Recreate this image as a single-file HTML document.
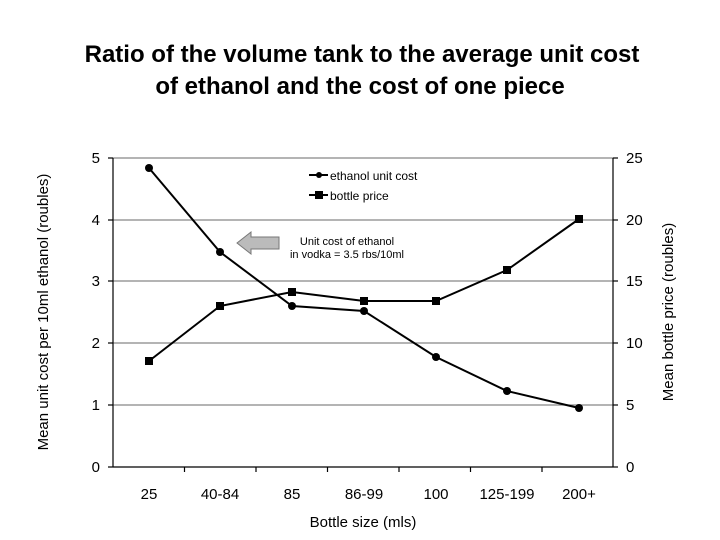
<!DOCTYPE html>
<html><head><style>body{margin:0;background:#fff}svg{display:block}</style></head><body>
<svg width="720" height="540" xmlns="http://www.w3.org/2000/svg" font-family="Liberation Sans, Arial, sans-serif">
<text x="362" y="62" text-anchor="middle" font-size="24" font-weight="bold">Ratio of the volume tank to the average unit cost</text>
<text x="360" y="94" text-anchor="middle" font-size="24" font-weight="bold">of ethanol and the cost of one piece</text>
<g stroke="#888" stroke-width="1.2">
<line x1="113" y1="158" x2="613" y2="158"/><line x1="113" y1="220" x2="613" y2="220"/>
<line x1="113" y1="281" x2="613" y2="281"/><line x1="113" y1="343" x2="613" y2="343"/>
<line x1="113" y1="405" x2="613" y2="405"/>
</g>
<g stroke="#000" stroke-width="1.2">
<line x1="113" y1="158" x2="113" y2="467"/><line x1="613" y1="158" x2="613" y2="467"/>
<line x1="113" y1="467" x2="613" y2="467"/>
<line x1="108" y1="158" x2="113" y2="158"/><line x1="108" y1="220" x2="113" y2="220"/><line x1="108" y1="281" x2="113" y2="281"/><line x1="108" y1="343" x2="113" y2="343"/><line x1="108" y1="405" x2="113" y2="405"/><line x1="108" y1="467" x2="113" y2="467"/>
<line x1="613" y1="158" x2="618" y2="158"/><line x1="613" y1="220" x2="618" y2="220"/><line x1="613" y1="281" x2="618" y2="281"/><line x1="613" y1="343" x2="618" y2="343"/><line x1="613" y1="405" x2="618" y2="405"/><line x1="613" y1="467" x2="618" y2="467"/>
<line x1="184.5" y1="467" x2="184.5" y2="472"/><line x1="256" y1="467" x2="256" y2="472"/><line x1="327.5" y1="467" x2="327.5" y2="472"/><line x1="399" y1="467" x2="399" y2="472"/><line x1="470.5" y1="467" x2="470.5" y2="472"/><line x1="542" y1="467" x2="542" y2="472"/>
</g>
<g font-size="15" text-anchor="end">
<text x="100" y="163">5</text><text x="100" y="225">4</text><text x="100" y="286">3</text><text x="100" y="348">2</text><text x="100" y="410">1</text><text x="100" y="472">0</text>
</g>
<g font-size="15" text-anchor="start">
<text x="626" y="163">25</text><text x="626" y="225">20</text><text x="626" y="286">15</text><text x="626" y="348">10</text><text x="626" y="410">5</text><text x="626" y="472">0</text>
</g>
<g font-size="15" text-anchor="middle">
<text x="149" y="499">25</text><text x="220" y="499">40-84</text><text x="292" y="499">85</text><text x="364" y="499">86-99</text><text x="436" y="499">100</text><text x="507" y="499">125-199</text><text x="579" y="499">200+</text>
<text x="363" y="527">Bottle size (mls)</text>
</g>
<text transform="translate(48,312) rotate(-90)" font-size="15" text-anchor="middle">Mean unit cost per 10ml ethanol (roubles)</text>
<text transform="translate(673,312) rotate(-90)" font-size="15" text-anchor="middle">Mean bottle price (roubles)</text>
<polyline fill="none" stroke="#000" stroke-width="2" points="149,168 220,252 292,306 364,311 436,357 507,391 579,408"/>
<g fill="#000"><circle cx="149" cy="168" r="4"/><circle cx="220" cy="252" r="4"/><circle cx="292" cy="306" r="4"/><circle cx="364" cy="311" r="4"/><circle cx="436" cy="357" r="4"/><circle cx="507" cy="391" r="4"/><circle cx="579" cy="408" r="4"/></g>
<polyline fill="none" stroke="#000" stroke-width="2" points="149,361 220,306 292,292 364,301 436,301 507,270 579,219"/>
<g fill="#000"><rect x="145" y="357" width="8" height="8"/><rect x="216" y="302" width="8" height="8"/><rect x="288" y="288" width="8" height="8"/><rect x="360" y="297" width="8" height="8"/><rect x="432" y="297" width="8" height="8"/><rect x="503" y="266" width="8" height="8"/><rect x="575" y="215" width="8" height="8"/></g>
<line x1="309" y1="175" x2="328" y2="175" stroke="#000" stroke-width="2"/><circle cx="319" cy="175" r="3"/>
<line x1="309" y1="195" x2="328" y2="195" stroke="#000" stroke-width="2"/><rect x="315" y="191" width="8" height="8"/>
<text x="330" y="180" font-size="12">ethanol unit cost</text>
<text x="330" y="200" font-size="12">bottle price</text>
<polygon points="237,243 251,232 251,237 279,237 279,249 251,249 251,254" fill="#bbb" stroke="#777" stroke-width="1"/>
<text x="347" y="245" font-size="11" text-anchor="middle">Unit cost of ethanol</text>
<text x="347" y="258" font-size="11" text-anchor="middle">in vodka = 3.5 rbs/10ml</text>
</svg>
</body></html>
